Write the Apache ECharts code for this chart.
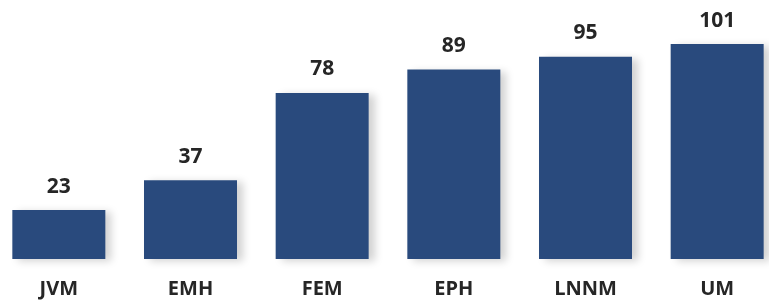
<!DOCTYPE html>
<html>
<head>
<meta charset="utf-8">
<script src="https://cdn.jsdelivr.net/npm/echarts@6/dist/echarts.min.js"></script>
<style>
  html, body { margin: 0; padding: 0; background: #fff; overflow: hidden; }
  /* plot is a bit wider than the window so the outer bars sit near the edges */
  #chart { position: relative; left: -7px; width: 790px; height: 301px; }
</style>
</head>
<body>
<div id="chart"></div>
<script>
const categories = ['JVM', 'EMH', 'FEM', 'EPH', 'LNNM', 'UM'];
const values = [23, 37, 78, 89, 95, 101];

const chart = echarts.init(document.getElementById('chart'));

const option = {
  animation: false,
  grid: { left: 0, right: 0, top: 3.6, bottom: 42 },
  xAxis: {
    type: 'category',
    data: categories,
    axisLine: { show: false },
    axisTick: { show: false },
    axisLabel: {
      margin: 20,
      color: '#262626',
      fontSize: 20,
      fontWeight: 'bold',
      fontFamily: 'Open Sans'
    }
  },
  yAxis: {
    type: 'value',
    min: 0,
    max: 120,
    show: false,
    splitLine: { show: false }
  },
  series: [
    {
      type: 'bar',
      data: values,
      barWidth: 93,
      itemStyle: {
        color: '#294a7d',
        shadowColor: 'rgba(0,0,0,0.18)',
        shadowBlur: 8,
        shadowOffsetX: 6,
        shadowOffsetY: 2
      },
      label: {
        show: true,
        position: 'top',
        distance: 13,
        color: '#262626',
        fontSize: 21,
        fontWeight: 'bold',
        fontFamily: 'Open Sans'
      }
    }
  ]
};

chart.setOption(option);
</script>
</body>
</html>
